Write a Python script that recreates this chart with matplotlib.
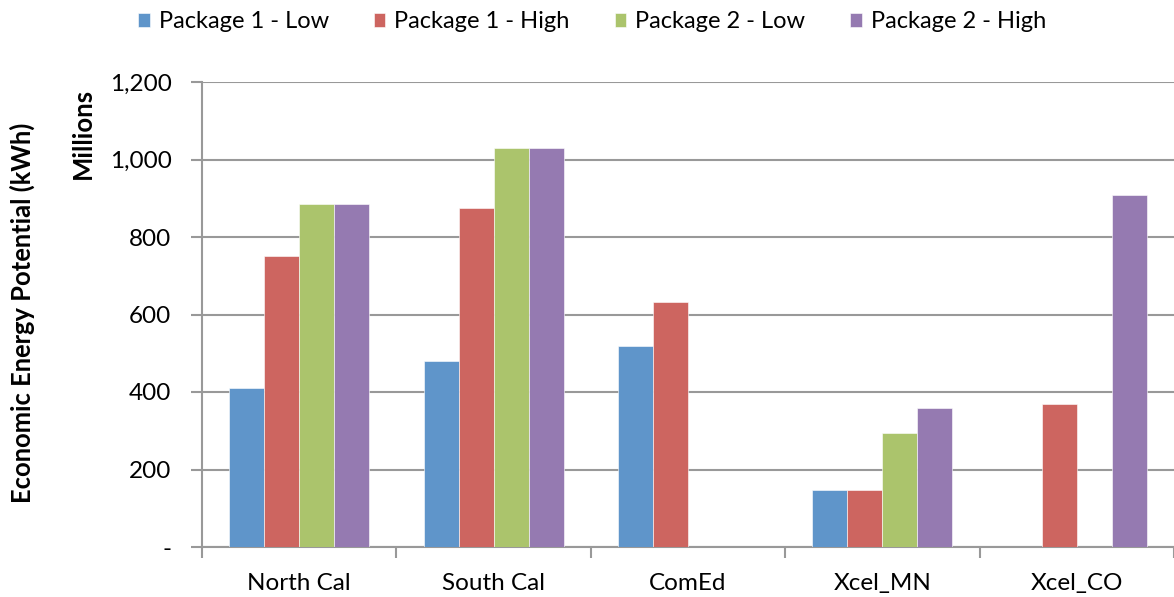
import matplotlib
matplotlib.use("Agg")
import matplotlib.pyplot as plt
import numpy as np
from matplotlib.ticker import FuncFormatter, MultipleLocator, FixedLocator

plt.rcParams['font.family'] = ['Lato', 'DejaVu Sans']

regions = ["North Cal", "South Cal", "ComEd", "Xcel_MN", "Xcel_CO"]
series_names = ["Package 1 - Low", "Package 1 - High", "Package 2 - Low", "Package 2 - High"]
pkg1_low = [411, 479, 519, 148, 0]
pkg1_high = [752, 876, 632, 148, 370]
pkg2_low = [884, 1029, 0, 295, 0]
pkg2_high = [884, 1029, 0, 360, 909]
colors = ["#5F95CA", "#CD6560", "#ABC46C", "#957AB1"]

series = [pkg1_low, pkg1_high, pkg2_low, pkg2_high]

fig = plt.figure(figsize=(11.74, 5.97), dpi=100)
ax = fig.add_axes([202 / 1174, 50 / 597, 972 / 1174, 465 / 597])

x = np.arange(len(regions))
bw = 0.18
for i, (vals, name, c) in enumerate(zip(series, series_names, colors)):
    ax.bar(x + (i - 1.5) * bw, vals, width=bw, color=c, label=name,
           edgecolor="white", linewidth=0.4, zorder=3)

ax.set_xlim(-0.5, len(regions) - 0.5)
ax.set_ylim(0, 1200)
ax.yaxis.set_major_locator(MultipleLocator(200))
ax.yaxis.set_major_formatter(FuncFormatter(lambda v, p: "-" if v == 0 else f"{int(v):,}"))
ax.grid(axis="y", color="#999999", linewidth=1.5, zorder=0)

ax.set_xticks(x)
ax.set_xticklabels(regions)
ax.xaxis.set_minor_locator(FixedLocator(np.arange(-0.5, len(regions), 1.0)))
ax.tick_params(axis="x", which="major", length=0, pad=19, labelsize=17.5)
ax.tick_params(axis="x", which="minor", length=8, width=1.5, color="#999999")
ax.tick_params(axis="y", length=8, width=1.5, color="#999999", pad=14, labelsize=17.5)

for s in ["top", "right"]:
    ax.spines[s].set_visible(False)
for s in ["left", "bottom"]:
    ax.spines[s].set_color("#999999")
    ax.spines[s].set_linewidth(1.5)

fig.text(22 / 1174, 1 - 313 / 597, "Economic Energy Potential (kWh)", rotation=90,
         ha="center", va="center", fontsize=18.4, fontweight="bold")
fig.text(83 / 1174, 1 - 133 / 597, "Millions", rotation=90,
         ha="center", va="center", fontsize=18.5, fontweight="bold")

fig.legend(loc="center", bbox_to_anchor=(592 / 1174, 1 - 22 / 597), ncol=4,
           frameon=False, fontsize=17, handlelength=0.5, handleheight=0.5,
           handletextpad=0.38, columnspacing=1.9)

fig.savefig("out.png", dpi=100)
